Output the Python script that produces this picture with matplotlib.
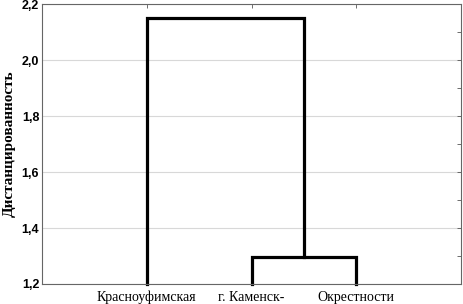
import matplotlib.pyplot as plt
import numpy as np

# leaves of the dendrogram and the join heights
leaves = ['Красноуфимская', 'г. Каменск-', 'Окрестности']
leaf_x = [1, 2, 3]
join_low = 1.295    # г. Каменск- + Окрестности
join_high = 2.15    # Красноуфимская + rest
yticks = [1.2, 1.4, 1.6, 1.8, 2.0, 2.2]

fig = plt.figure(figsize=(4.63, 3.04), dpi=100)
ax = fig.add_axes([0.0907, 0.0658, 0.905, 0.921])

lw = 2.3
base = yticks[0]
mid = (leaf_x[1] + leaf_x[2]) / 2
# lower cluster
ax.plot([leaf_x[1], leaf_x[1], leaf_x[2], leaf_x[2]],
        [base, join_low, join_low, base], color='black', lw=lw,
        solid_joinstyle='miter', clip_on=False)
# upper cluster
ax.plot([leaf_x[0], leaf_x[0], mid, mid],
        [base, join_high, join_high, join_low], color='black', lw=lw,
        solid_joinstyle='miter', clip_on=False)

ax.set_xlim(0, 4)
ax.set_ylim(1.2, 2.2)
ax.set_yticks(yticks)
ax.set_yticklabels([f'{v:.1f}'.replace('.', ',') for v in yticks],
                   fontfamily='Liberation Sans', fontweight='bold', fontsize=9)
ax.set_yticks(np.arange(1.3, 2.2, 0.2), minor=True)
ax.set_xticks(leaf_x)
ax.set_xticklabels(leaves, fontfamily='Liberation Serif', fontsize=10)
ax.tick_params(axis='x', length=0, pad=5)
ax.tick_params(axis='y', which='both', direction='in', right=True, left=False,
               length=3, width=0.6, pad=2, colors='#555555', labelcolor='black')
ax.tick_params(axis='x', top=True, direction='in', length=3, width=0.6,
               colors='#555555', labelcolor='black')
ax.grid(axis='y', color='#d8d8d8', lw=0.8)
ax.set_axisbelow(True)
for s in ax.spines.values():
    s.set_color('#666666')
    s.set_linewidth(0.8)

ax.set_ylabel('Дистанцированность', fontfamily='Liberation Serif',
              fontweight='bold', fontsize=11, labelpad=4)

fig.savefig('out.png', dpi=100)
